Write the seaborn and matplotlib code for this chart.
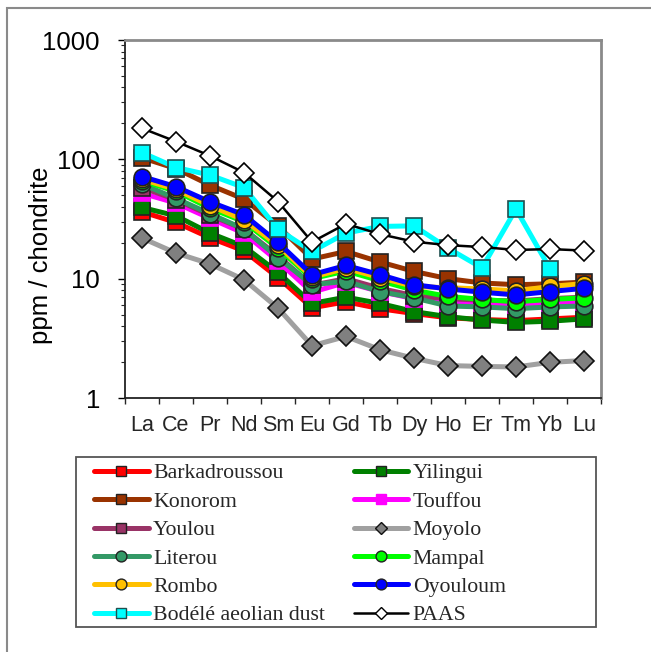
import numpy as np
import pandas as pd
import matplotlib
matplotlib.use("Agg")
import matplotlib.pyplot as plt
import matplotlib.patches as mpatches
from matplotlib.lines import Line2D
import seaborn as sns

elements = ["La", "Ce", "Pr", "Nd", "Sm", "Eu", "Gd", "Tb", "Dy", "Ho", "Er", "Tm", "Yb", "Lu"]

barkadroussou = [36.3, 29.6, 22.0, 17.1, 10.2, 5.7, 6.4, 5.6, 5.1, 4.7, 4.55, 4.45, 4.6, 4.75]
yilingui = [39.5, 33.6, 24.1, 18.6, 11.3, 6.2, 7.0, 6.2, 5.3, 4.8, 4.5, 4.3, 4.4, 4.6]
konorom = [103, 83.7, 60.8, 46.4, 27.6, 14.6, 16.9, 13.8, 11.5, 10.0, 9.2, 8.9, 9.05, 9.36]
touffou = [52, 43, 32, 24, 14, 7.7, 9.3, 7.8, 6.8, 6.3, 6.2, 6.0, 6.2, 6.4]
youlou = [58, 46, 34, 26, 15.5, 8.8, 10.0, 8.3, 7.2, 6.8, 6.6, 6.5, 6.8, 7.0]
moyolo = [21.9, 16.4, 13.3, 9.8, 5.67, 2.74, 3.28, 2.54, 2.15, 1.87, 1.84, 1.82, 1.99, 2.06]
literou = [62, 47, 35, 26, 15, 8.9, 9.5, 7.8, 6.9, 5.9, 5.8, 5.6, 5.8, 5.9]
mampal = [66, 54, 39, 30, 18, 10.0, 11.6, 9.6, 8.0, 7.1, 6.7, 6.4, 6.7, 6.9]
rombo = [68, 56, 41, 31, 19, 10.3, 12.2, 10.2, 8.6, 8.4, 8.2, 7.9, 8.6, 9.1]
oyouloum = [71.8, 59, 44, 34.3, 20.1, 10.8, 12.9, 10.8, 8.9, 8.2, 7.7, 7.3, 7.8, 8.3]
bodele = [114, 85.4, 73.8, 58, 26.0, 16.9, 24.1, 27.4, 27.7, 18.0, 12.3, 38.3, 12.1, np.nan]
paas = [182, 141, 107, 77.5, 44.3, 20.3, 28.8, 23.6, 20.4, 19.1, 18.4, 17.4, 17.7, 17.2]

series_names = ["Barkadroussou", "Yilingui", "Konorom", "Touffou", "Youlou", "Moyolo",
                "Literou", "Mampal", "Rombo", "Oyouloum", "Bodélé aeolian dust", "PAAS"]
series_values = [barkadroussou, yilingui, konorom, touffou, youlou, moyolo,
                 literou, mampal, rombo, oyouloum, bodele, paas]

styles = {
    "Barkadroussou": dict(color="#FF0000", marker="s", mfc="#FF0000", mec="#222222", lw=3.6, ms=11.5),
    "Yilingui": dict(color="#008000", marker="s", mfc="#008000", mec="#222222", lw=3.6, ms=11.5),
    "Konorom": dict(color="#993300", marker="s", mfc="#993300", mec="#222222", lw=3.6, ms=11.5),
    "Touffou": dict(color="#FF00FF", marker="s", mfc="#FF00FF", mec="#FF00FF", lw=3.6, ms=11.5),
    "Youlou": dict(color="#993366", marker="s", mfc="#993366", mec="#222222", lw=3.6, ms=11.5),
    "Moyolo": dict(color="#A0A0A0", marker="D", mfc="#808080", mec="#111111", lw=3.6, ms=10),
    "Literou": dict(color="#339966", marker="o", mfc="#339966", mec="#222222", lw=3.6, ms=12),
    "Mampal": dict(color="#00FF00", marker="o", mfc="#00FF00", mec="#222222", lw=3.6, ms=12),
    "Rombo": dict(color="#FFC000", marker="o", mfc="#FFC000", mec="#222222", lw=3.6, ms=12),
    "Oyouloum": dict(color="#0000FF", marker="o", mfc="#0000FF", mec="#222222", lw=3.6, ms=12),
    "Bodélé aeolian dust": dict(color="#00FFFF", marker="s", mfc="#00FFFF", mec="#1F4F4F", lw=3.6, ms=11.5),
    "PAAS": dict(color="#000000", marker="D", mfc="#FFFFFF", mec="#000000", lw=1.8, ms=10),
}

sns.set_theme(style="white")
plt.rcParams["font.family"] = ["Liberation Sans", "DejaVu Sans"]

fig = plt.figure(figsize=(6.51, 6.52), dpi=100)
ax = fig.add_axes([125 / 651, 1 - 398 / 652, 476 / 651, 358 / 652])

for name, vals in zip(series_names, series_values):
    st = styles[name]
    df = pd.DataFrame({"element": elements, "value": vals})
    sns.lineplot(data=df, x="element", y="value", sort=False, estimator=None, ax=ax,
                 color=st["color"], marker=st["marker"], markersize=st["ms"],
                 markerfacecolor=st["mfc"], markeredgecolor=st["mec"], markeredgewidth=1.2,
                 linewidth=st["lw"], label=name, legend=False)

ax.set_yscale("log")
ax.set_ylim(1, 1000)
ax.set_xlim(-0.5, 13.5)
ax.set_xlabel("")
ax.set_ylabel("ppm / chondrite", fontsize=18.5, color="black")
ax.yaxis.set_label_coords(-0.152, 0.40)

ax.set_yticks([1, 10, 100, 1000])
ax.set_yticklabels(["1", "10", "100", "1000"])
ax.tick_params(axis="y", which="major", direction="out", length=5, width=1, pad=13,
               labelsize=18.5, left=True, colors="black")
ax.tick_params(axis="y", which="minor", direction="out", length=3, width=0.8, left=True)

ax.set_xticks(np.arange(-0.5, 14, 1))
ax.set_xticklabels([])
ax.set_xticks(np.arange(14), labels=elements, minor=True)
ax.tick_params(axis="x", which="major", direction="out", length=4, width=1, bottom=True)
ax.tick_params(axis="x", which="minor", length=0, pad=12, labelsize=15.5, bottom=True)

for side in ["top", "right"]:
    ax.spines[side].set_color("#8A8A8A")
    ax.spines[side].set_linewidth(2)
for side in ["left", "bottom"]:
    ax.spines[side].set_color("#222222")
    ax.spines[side].set_linewidth(1.3)
ax.grid(False)

# legend
handles = {}
for name in series_names:
    st = styles[name]
    handles[name] = Line2D([], [], color=st["color"], lw=st["lw"] if name != "PAAS" else 1.8,
                           marker=st["marker"], ms=st["ms"] * 0.65,
                           mfc=st["mfc"], mec=st["mec"], mew=1.0)
order = ["Barkadroussou", "Konorom", "Youlou", "Literou", "Rombo", "Bodélé aeolian dust",
         "Yilingui", "Touffou", "Moyolo", "Mampal", "Oyouloum", "PAAS"]
leg = fig.legend([handles[n] for n in order], order, ncol=2,
                 loc="upper left", bbox_to_anchor=(94 / 651, 1 - 463 / 652),
                 prop={"family": "Liberation Serif", "size": 15.7},
                 frameon=False, borderpad=0,
                 labelspacing=0.375, handlelength=2.5, handletextpad=0.2,
                 columnspacing=1.33, borderaxespad=0)

legbox = mpatches.Rectangle((76 / 651, 1 - 627 / 652), 520 / 651, 170 / 652,
                            transform=fig.transFigure, fill=False,
                            edgecolor="#555555", linewidth=1.3)
fig.patches.append(legbox)

# outer frame
frame = mpatches.Rectangle((7 / 651, -0.1), 1.2, 1.1 - 8 / 652, transform=fig.transFigure,
                           fill=False, edgecolor="#8A8A8A", linewidth=1.5)
fig.patches.append(frame)

fig.savefig("out.png", dpi=100)
